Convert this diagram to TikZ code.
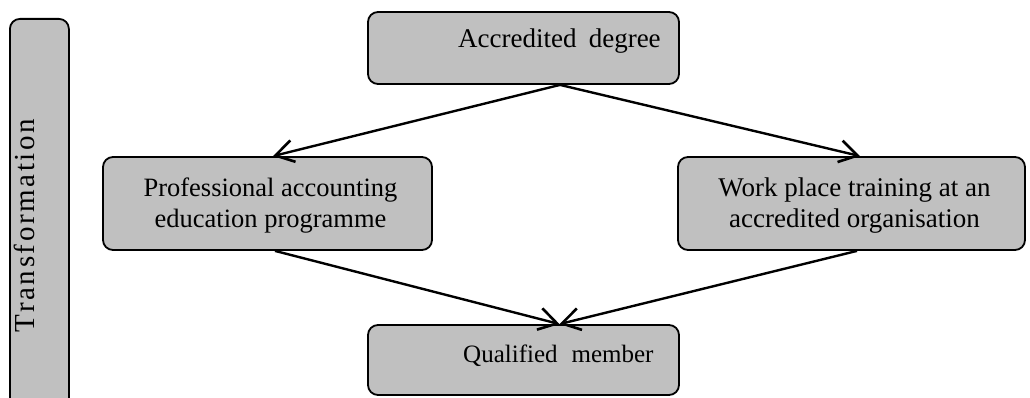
\documentclass[tikz,border=0pt]{standalone}
\usepackage{fontspec}
\setmainfont{Liberation Serif}
\usetikzlibrary{arrows.meta}
\definecolor{boxgray}{HTML}{C0C0C0}
\tikzset{
  gbox/.style={draw=black, line width=1.8pt, fill=boxgray, rounded corners=10pt, inner sep=0pt},
  txt/.style={font=\fontsize{26.5}{31}\selectfont, align=center, inner sep=0pt},
  conn/.style={line width=2.4pt, -{Straight Barb[length=18pt,width=22pt,line width=2.6pt]}}
}
\begin{document}
\begin{tikzpicture}[x=1pt,y=1pt]
\useasboundingbox (0,0) rectangle (1030,398);
% side bar
\node[gbox, minimum width=59pt, minimum height=400pt, anchor=north west] (side) at (9,380) {};
\node[txt, rotate=90, anchor=base, font=\fontsize{29}{31}\addfontfeature{LetterSpace=9}\selectfont] (sidetxt) at (34,172.5) {Transformation};
% boxes
\node[gbox, minimum width=311pt, minimum height=72pt] (acc) at (523.5,350) {};
\node[txt, anchor=base west, font=\fontsize{27}{31}\selectfont] (acctxt) at (458,350) {Accredited\hspace{0.45em}degree};
\node[gbox, minimum width=329pt, minimum height=93pt] (prof) at (267.5,194.5) {};
\node[txt] (proftxt) at (270.5,192) {Professional accounting\\education programme};
\node[gbox, minimum width=347pt, minimum height=93pt] (work) at (851.5,194.5) {};
\node[txt, font=\fontsize{27}{31}\selectfont] (worktxt) at (854.5,192) {Work place training at an\\accredited organisation};
\node[gbox, minimum width=311pt, minimum height=70pt] (qual) at (523.5,38) {};
\node[txt, anchor=base west, font=\fontsize{25}{31}\selectfont] (qualtxt) at (463,35) {Qualified\hspace{0.56em}member};
% connectors
\coordinate (accout) at ([xshift=36.5pt]acc.south);
\coordinate (qualin) at ([xshift=36pt]qual.north);
\draw[conn] (accout) -- ([xshift=5.5pt]prof.north);
\draw[conn] (accout) -- ([xshift=8.5pt]work.north);
\draw[conn] ([xshift=7.5pt]prof.south) -- (qualin);
\draw[conn] ([xshift=5.5pt]work.south) -- (qualin);
\end{tikzpicture}
\end{document}
